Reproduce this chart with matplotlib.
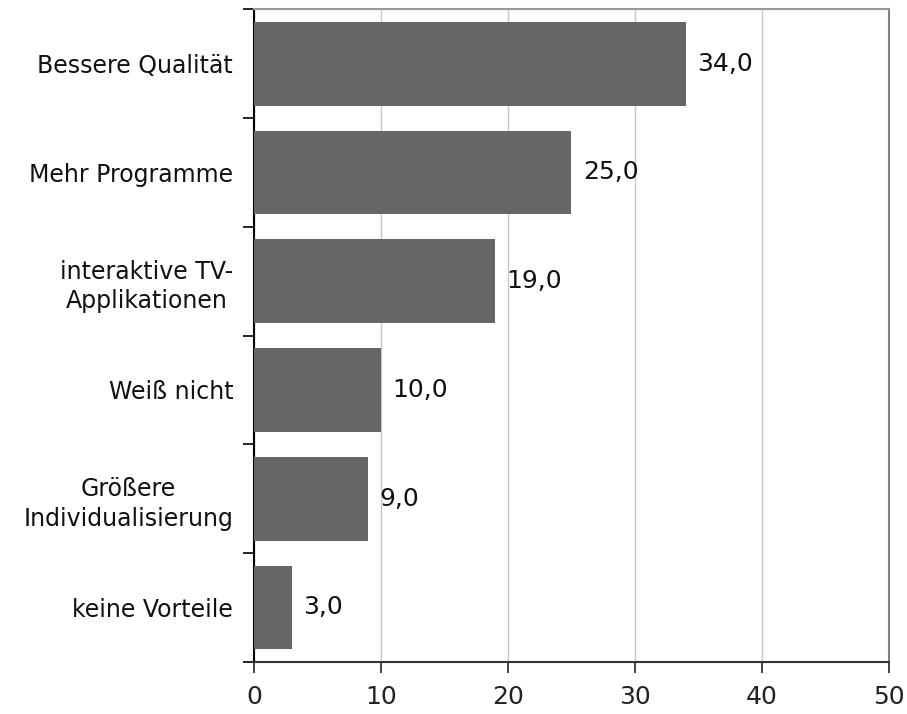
import numpy as np
import matplotlib
matplotlib.use('Agg')
import matplotlib.pyplot as plt

# Data (top to bottom)
categories = ['Bessere Qualität', 'Mehr Programme', 'interaktive TV-\nApplikationen',
              'Weiß nicht', 'Größere\nIndividualisierung', 'keine Vorteile']
values = [34.0, 25.0, 19.0, 10.0, 9.0, 3.0]
xTicks = [0, 10, 20, 30, 40, 50]

plt.rcParams['font.family'] = ['DejaVu Sans']

fig = plt.figure(figsize=(9.07, 7.14), dpi=100)
ax = fig.add_axes([0.280, 0.073, 0.700, 0.914])

n = len(categories)
positions = np.arange(n)[::-1]
bars = ax.barh(positions, values, height=0.77, color='#666666', zorder=3)

for pos, val in zip(positions, values):
    ax.text(val + 0.9, pos, ('%.1f' % val).replace('.', ','), va='center', ha='left',
            fontsize=18, color='#111111')

ax.set_xlim(0, 50)
ax.set_ylim(-0.5, n - 0.5)
ax.set_xticks(xTicks)
ax.set_xticklabels([str(t) for t in xTicks], fontsize=18)
ax.tick_params(axis='x', direction='out', length=8, width=1.2, pad=9, colors='#222222')
ax.xaxis.grid(True, color='#c8c8c8', linewidth=1, zorder=0)

# category labels at bar centres, ticks at the category boundaries
ax.set_yticks(positions)
ax.set_yticklabels(categories, fontsize=17, multialignment='center', linespacing=1.3,
                   color='#111111')
ax.tick_params(axis='y', which='major', length=0, pad=15)
ax.set_yticks(np.arange(-0.5, n, 1.0), minor=True)
ax.tick_params(axis='y', which='minor', direction='out', length=8, width=1.2, color='black')

ax.spines['left'].set_color('black')
ax.spines['left'].set_linewidth(1.5)
ax.spines['bottom'].set_color('#333333')
ax.spines['bottom'].set_linewidth(1.5)
ax.spines['top'].set_color('#999999')
ax.spines['top'].set_linewidth(1.5)
ax.spines['right'].set_color('#808080')
ax.spines['right'].set_linewidth(1.5)

fig.savefig('out.png', dpi=100)
